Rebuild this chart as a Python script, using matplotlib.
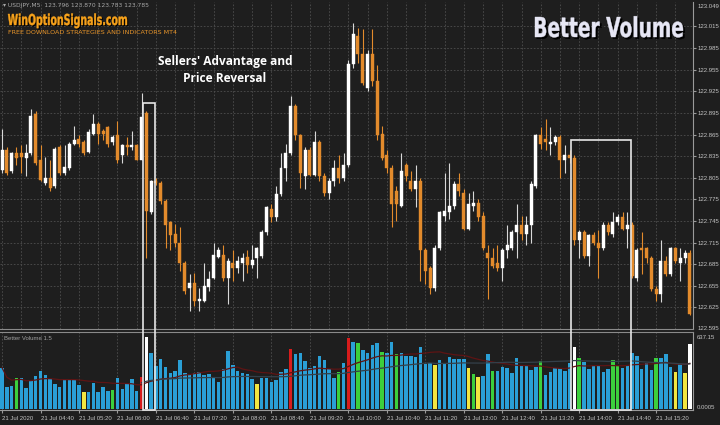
import matplotlib
matplotlib.use("Agg")
import matplotlib.pyplot as plt
from matplotlib.patches import Rectangle, PathPatch
from matplotlib.textpath import TextPath
from matplotlib.font_manager import FontProperties
from matplotlib.transforms import Affine2D, IdentityTransform
import numpy as np
import pandas as pd

# USDJPY M5 candles, 21 Jul 2020 04:00 .. 15:55
opens = [122.816, 122.844, 122.815, 122.839, 122.839, 122.833, 122.839, 122.894, 122.829, 122.798,
         122.805, 122.794, 122.848, 122.812, 122.819, 122.852, 122.859, 122.854, 122.841, 122.866,
         122.880, 122.870, 122.875, 122.854, 122.864, 122.837, 122.851, 122.848, 122.850, 122.830,
         122.895, 122.758, 122.801, 122.798, 122.773, 122.743, 122.727, 122.715, 122.687, 122.652,
         122.659, 122.634, 122.634, 122.654, 122.666, 122.695, 122.698, 122.666, 122.686, 122.679,
         122.687, 122.695, 122.684, 122.693, 122.697, 122.729, 122.762, 122.750, 122.782, 122.819,
         122.839, 122.905, 122.864, 122.808, 122.844, 122.809, 122.855, 122.807, 122.784, 122.801,
         122.819, 122.804, 122.823, 122.963, 123.002, 122.977, 122.930, 122.977, 122.940, 122.866,
         122.836, 122.818, 122.787, 122.766, 122.822, 122.801, 122.790, 122.801, 122.704, 122.679,
         122.652, 122.708, 122.752, 122.757, 122.766, 122.797, 122.784, 122.734, 122.766, 122.770,
         122.752, 122.700, 122.694, 122.686, 122.679, 122.704, 122.708, 122.729, 122.739, 122.727,
         122.740, 122.794, 122.864, 122.859, 122.852, 122.854, 122.861, 122.829, 122.836, 122.833,
         122.718, 122.729, 122.697, 122.725, 122.714, 122.707, 122.739, 122.727, 122.743, 122.751,
         122.734, 122.740, 122.666, 122.707, 122.707, 122.694, 122.651, 122.644, 122.690, 122.672,
         122.707, 122.687, 122.693, 122.700]
closes = [122.843, 122.812, 122.839, 122.833, 122.834, 122.840, 122.891, 122.826, 122.802, 122.805,
          122.791, 122.845, 122.812, 122.820, 122.852, 122.857, 122.852, 122.840, 122.869, 122.880,
          122.866, 122.866, 122.852, 122.862, 122.830, 122.850, 122.847, 122.851, 122.830, 122.890,
          122.759, 122.801, 122.798, 122.773, 122.739, 122.725, 122.714, 122.686, 122.648, 122.659,
          122.634, 122.637, 122.655, 122.665, 122.698, 122.704, 122.666, 122.690, 122.679, 122.690,
          122.694, 122.684, 122.691, 122.707, 122.729, 122.764, 122.750, 122.783, 122.818, 122.839,
          122.905, 122.864, 122.811, 122.844, 122.809, 122.855, 122.807, 122.784, 122.800, 122.819,
          122.804, 122.823, 122.963, 123.005, 122.977, 122.937, 122.977, 122.940, 122.864, 122.832,
          122.818, 122.769, 122.769, 122.815, 122.808, 122.790, 122.801, 122.704, 122.676, 122.652,
          122.708, 122.757, 122.759, 122.766, 122.797, 122.786, 122.734, 122.769, 122.770, 122.750,
          122.707, 122.693, 122.683, 122.679, 122.704, 122.711, 122.729, 122.739, 122.727, 122.739,
          122.797, 122.864, 122.852, 122.854, 122.855, 122.861, 122.829, 122.836, 122.832, 122.718,
          122.729, 122.697, 122.725, 122.714, 122.707, 122.739, 122.729, 122.743, 122.750, 122.734,
          122.740, 122.669, 122.704, 122.704, 122.693, 122.651, 122.644, 122.690, 122.672, 122.707,
          122.690, 122.693, 122.700, 122.616]
highs = [122.873, 122.847, 122.841, 122.847, 122.850, 122.852, 122.900, 122.897, 122.850, 122.834,
         122.829, 122.848, 122.851, 122.850, 122.855, 122.877, 122.864, 122.857, 122.872, 122.894,
         122.883, 122.873, 122.877, 122.865, 122.884, 122.852, 122.861, 122.870, 122.852, 122.923,
         122.898, 122.802, 122.804, 122.801, 122.776, 122.745, 122.741, 122.736, 122.690, 122.672,
         122.673, 122.652, 122.687, 122.676, 122.714, 122.709, 122.711, 122.693, 122.704, 122.697,
         122.701, 122.704, 122.711, 122.709, 122.732, 122.766, 122.769, 122.794, 122.839, 122.852,
         122.919, 122.908, 122.866, 122.847, 122.847, 122.870, 122.858, 122.812, 122.804, 122.829,
         122.836, 122.840, 122.968, 123.020, 123.013, 123.012, 122.982, 123.012, 122.961, 122.877,
         122.843, 122.822, 122.794, 122.839, 122.825, 122.815, 122.822, 122.804, 122.707, 122.683,
         122.711, 122.759, 122.812, 122.825, 122.801, 122.811, 122.790, 122.784, 122.787, 122.776,
         122.757, 122.711, 122.707, 122.711, 122.708, 122.739, 122.732, 122.769, 122.752, 122.752,
         122.801, 122.866, 122.875, 122.887, 122.875, 122.865, 122.864, 122.850, 122.843, 122.836,
         122.732, 122.732, 122.727, 122.729, 122.732, 122.743, 122.743, 122.757, 122.754, 122.757,
         122.757, 122.743, 122.707, 122.729, 122.709, 122.697, 122.655, 122.718, 122.697, 122.709,
         122.709, 122.708, 122.704, 122.704]
lows = [122.812, 122.809, 122.812, 122.822, 122.811, 122.808, 122.836, 122.822, 122.801, 122.795,
        122.787, 122.791, 122.809, 122.809, 122.816, 122.850, 122.848, 122.836, 122.839, 122.864,
        122.852, 122.857, 122.848, 122.850, 122.825, 122.825, 122.836, 122.843, 122.829, 122.829,
        122.694, 122.754, 122.795, 122.768, 122.708, 122.704, 122.709, 122.676, 122.644, 122.620,
        122.627, 122.620, 122.632, 122.648, 122.664, 122.693, 122.662, 122.630, 122.662, 122.673,
        122.662, 122.673, 122.679, 122.666, 122.693, 122.726, 122.743, 122.745, 122.779, 122.801,
        122.836, 122.857, 122.791, 122.790, 122.807, 122.807, 122.801, 122.780, 122.776, 122.794,
        122.798, 122.801, 122.820, 122.957, 122.965, 122.934, 122.926, 122.933, 122.857, 122.829,
        122.812, 122.736, 122.745, 122.764, 122.801, 122.787, 122.764, 122.662, 122.658, 122.644,
        122.648, 122.704, 122.745, 122.748, 122.762, 122.780, 122.732, 122.732, 122.759, 122.745,
        122.704, 122.637, 122.679, 122.676, 122.662, 122.693, 122.704, 122.693, 122.718, 122.711,
        122.714, 122.791, 122.845, 122.843, 122.836, 122.850, 122.805, 122.812, 122.826, 122.711,
        122.694, 122.693, 122.683, 122.711, 122.666, 122.704, 122.725, 122.723, 122.739, 122.732,
        122.708, 122.666, 122.662, 122.672, 122.687, 122.648, 122.634, 122.632, 122.669, 122.669,
        122.686, 122.662, 122.687, 122.614]

# Better Volume 1.5 histogram
volumes = [365, 197, 204, 272, 272, 189, 257, 295, 336, 301,
           266, 221, 197, 266, 263, 257, 212, 153, 153, 233,
           153, 192, 162, 168, 272, 174, 219, 266, 159, 286,
           635, 493, 381, 440, 374, 316, 339, 434, 316, 307,
           316, 325, 301, 307, 272, 242, 351, 513, 389, 339,
           321, 307, 263, 221, 272, 272, 242, 257, 325, 354,
           531, 487, 493, 425, 360, 383, 472, 434, 351, 272,
           330, 404, 626, 596, 581, 522, 493, 566, 581, 502,
           493, 596, 484, 493, 469, 469, 457, 551, 398, 404,
           389, 434, 404, 457, 440, 440, 440, 365, 310, 286,
           295, 484, 339, 336, 369, 360, 316, 454, 383, 383,
           345, 374, 427, 301, 330, 365, 360, 336, 404, 551,
           454, 419, 354, 389, 381, 330, 354, 434, 381, 360,
           389, 493, 469, 354, 404, 345, 449, 449, 487, 374,
           330, 396, 321, 573]
green_bars = [3, 23, 70, 74, 79, 82, 98, 102, 112, 120, 127, 128, 136]
yellow_bars = [17, 53, 90, 97, 99, 140, 142]
red_bars = [29, 60, 72]
white_bars = [30, 119, 143]

time_labels = ["21 Jul 2020", "21 Jul 04:40", "21 Jul 05:20", "21 Jul 06:00", "21 Jul 06:40",
               "21 Jul 07:20", "21 Jul 08:00", "21 Jul 08:40", "21 Jul 09:20", "21 Jul 10:00",
               "21 Jul 10:40", "21 Jul 11:20", "21 Jul 12:00", "21 Jul 12:40", "21 Jul 13:20",
               "21 Jul 14:00", "21 Jul 14:40", "21 Jul 15:20"]
price_ticks = [122.625, 122.655, 122.685, 122.715, 122.745, 122.775, 122.805, 122.835,
               122.865, 122.895, 122.925, 122.955, 122.985, 123.015]
price_min, price_max = 122.595, 123.049
vol_max = 637.15

# highlighted zones: (first candle, last candle, top price)
zones = [(30, 31, 122.909), (119, 130, 122.857)]

BG = "#1e1e1e"
GRID = "#4e4e4e"
ORANGE = "#e38b2c"
TXT = "#c4c4c4"
SMALL = dict(family=["Liberation Sans", "DejaVu Sans"], fontsize=4.3)

W, H = 720, 425
fig = plt.figure(figsize=(7.2, 4.25), dpi=100, facecolor=BG)
ax = fig.add_axes([0, 1 - 329 / H, 693 / W, 327 / H], facecolor=BG)
axv = fig.add_axes([0, 1 - 410 / H, 693 / W, 78 / H], facecolor=BG)

x = np.arange(len(opens))
o = np.array(opens); c = np.array(closes)
hi = np.array(highs); lo = np.array(lows)
up = c >= o
cols = np.where(up, "#ffffff", ORANGE)

x0 = -0.42
x1 = x0 + 693 / 4.81
for a in (ax, axv):
    a.set_xlim(x0, x1)
ax.set_ylim(price_min, price_max)
axv.set_ylim(-9, 681)

# grid
for p in price_ticks:
    ax.axhline(p, color=GRID, lw=0.6, ls=(0, (2, 2)), zorder=0)
for g in np.arange(0, len(opens), 4):
    ax.axvline(g, color=GRID, lw=0.6, ls=(0, (2, 2)), zorder=0)
for g in np.arange(0, len(opens), 8):
    axv.axvline(g, color=GRID, lw=0.6, ls=(0, (2, 2)), zorder=0)

# candles
ax.vlines(x, lo, hi, colors=np.where(up, "#d8d8d8", ORANGE), lw=0.8, zorder=2)
body_low = np.minimum(o, c)
body_h = np.maximum(np.abs(c - o), 0.0012)
ax.bar(x, body_h, bottom=body_low, width=0.62, color=cols, edgecolor=cols, lw=0.3, zorder=3)

# volume bars
vcols = ["#2a9fd6"] * len(volumes)
for i in green_bars:
    vcols[i] = "#3ccf3c"
for i in yellow_bars:
    vcols[i] = "#f2e640"
for i in red_bars:
    vcols[i] = "#d81c1c"
for i in white_bars:
    vcols[i] = "#ffffff"
axv.bar(x, volumes, width=0.72, color=vcols, zorder=2)
vs = pd.Series(volumes, dtype=float)
axv.plot(x, vs.rolling(20, min_periods=1).mean(), color="#5e1414", lw=0.9, zorder=3)
axv.plot(x, vs.rolling(60, min_periods=30).mean(), color="#34404a", lw=0.9, zorder=3)

# axes styling
for a in (ax, axv):
    for s in a.spines.values():
        s.set_visible(False)
    a.spines["right"].set_visible(True)
    a.spines["right"].set_color("#9a9a9a")
    a.spines["right"].set_linewidth(0.8)
ax.spines["bottom"].set_visible(True)
ax.spines["bottom"].set_color("#8a8a8a")
axv.spines["top"].set_visible(True)
axv.spines["top"].set_color("#8a8a8a")
axv.spines["bottom"].set_visible(True)
axv.spines["bottom"].set_color("#9a9a9a")

ax.set_xticks([])
ax.yaxis.tick_right()
ax.set_yticks(price_ticks)
ax.set_yticklabels([f"{p:.3f}" for p in price_ticks], **SMALL)
ax.tick_params(axis="y", colors="#9a9a9a", labelcolor=TXT, length=2, pad=1.5)
ax.text(1.006, 1 - 4 / 327, f"{price_max:.3f}", transform=ax.transAxes, color=TXT,
        va="center", ha="left", **SMALL)
ax.text(1.006, 0.0, f"{price_min:.3f}", transform=ax.transAxes, color=TXT,
        va="center", ha="left", **SMALL)

axv.set_yticks([])
axv.text(1.006, 0.93, f"{vol_max:.2f}", transform=axv.transAxes, color=TXT,
         va="center", ha="left", **SMALL)
axv.text(1.006, 0.03, "0.0005", transform=axv.transAxes, color=TXT,
         va="center", ha="left", **SMALL)
axv.set_xticks(np.arange(0, len(opens), 8)[:len(time_labels)])
axv.set_xticklabels(time_labels, **SMALL)
axv.tick_params(axis="x", colors="#9a9a9a", labelcolor=TXT, length=2, pad=2)
for lab in axv.get_xticklabels():
    lab.set_ha("left")
axv.text(0.006, 0.92, "Better Volume 1.5", transform=axv.transAxes, color="#a0a0a0",
         va="center", ha="left", **SMALL)

# header texts
fig.text(0.004, 1 - 6 / H, "\u25be USDJPY,M5  123.796 123.870 123.783 123.785",
         color="#a8a8a8", fontsize=4.3, va="center", ha="left")
fig.text(8 / W, 1 - 32 / H, "FREE DOWNLOAD STRATEGIES AND INDICATORS MT4", color="#e8952a",
         fontsize=4.6, va="center", ha="left")
fig.text(225 / W, 1 - 61 / H, "Sellers' Advantage and", color="white", fontsize=8.6,
         fontweight="bold", family=["Open Sans", "DejaVu Sans"], va="center", ha="center")
fig.text(225 / W, 1 - 79 / H, "Price Reversal", color="white", fontsize=8.6,
         fontweight="bold", family=["Open Sans", "DejaVu Sans"], va="center", ha="center")


def logo_text(s, left_px, baseline_px, cap_px, width_px, color, shadow):
    # condensed heavy lettering: bold glyphs squeezed horizontally
    fp = FontProperties(family="DejaVu Sans", weight="bold")
    tp = TextPath((0, 0), s, size=100, prop=fp)
    cap = TextPath((0, 0), "H", size=100, prop=fp).get_extents().height
    bb = tp.get_extents()
    sy = cap_px / cap
    sx = width_px / bb.width
    for off, col in ((shadow, "#000000"), (0, color)):
        tr = (Affine2D().translate(-bb.x0, 0).scale(sx, sy)
              .translate(left_px + off, H - baseline_px - off))
        fig.add_artist(PathPatch(tr.transform_path(tp), transform=IdentityTransform(),
                                 facecolor=col, edgecolor=col, lw=0.3, zorder=20))


logo_text("WinOptionSignals.com", 8, 25, 11, 119, "#f7a21b", 1.0)
logo_text("Better Volume", 535, 37, 20, 148, "#e6e6f4", 1.8)

# highlight rectangles spanning both panes
to_fig = fig.transFigure.inverted()
for first, last, top in zones:
    xa, ya = to_fig.transform(ax.transData.transform((first - 0.75, top)))
    xb, _ = to_fig.transform(ax.transData.transform((last + 0.75, top)))
    _, yb = to_fig.transform(axv.transData.transform((0, -12)))
    fig.add_artist(Rectangle((xa, yb), xb - xa, ya - yb, transform=fig.transFigure,
                             fill=False, edgecolor="#e6e6e6", lw=1.2, zorder=10))

fig.savefig("out.png", dpi=100, facecolor=BG)
